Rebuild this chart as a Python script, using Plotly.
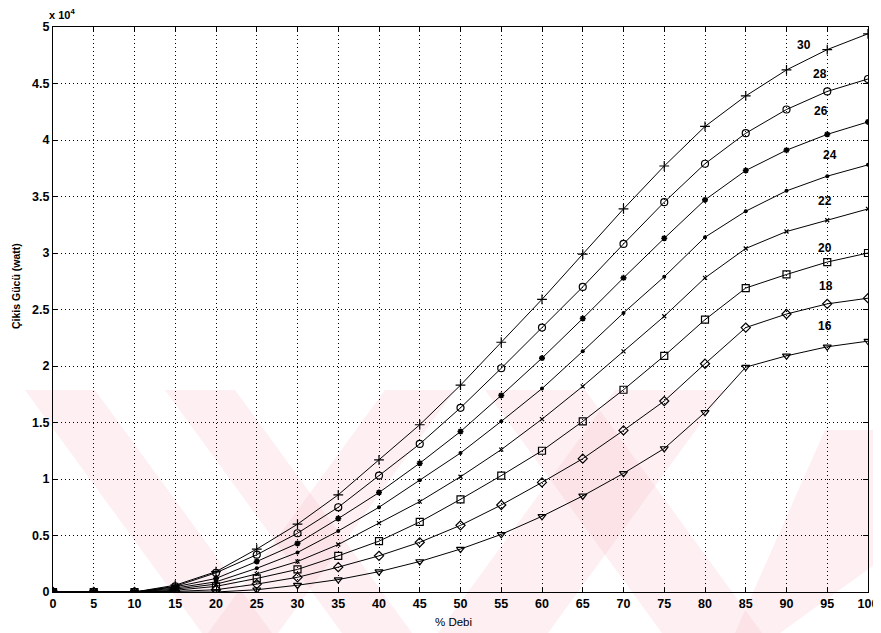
import plotly.graph_objects as go

# ---------------- data ----------------
debi = [0, 5, 10, 15, 20, 25, 30, 35, 40, 45, 50, 55, 60, 65, 70, 75, 80, 85, 90, 95, 100]

p30 = [0, 0, 0, 600, 1800, 3800, 6000, 8600, 11700, 14800, 18300, 22100, 25900, 29900, 33900, 37700, 41200, 43900, 46200, 48000, 49400]
p28 = [0, 0, 0, 500, 1700, 3300, 5200, 7500, 10300, 13100, 16300, 19800, 23400, 27000, 30800, 34500, 37900, 40600, 42700, 44300, 45400]
p26 = [0, 0, 0, 450, 1200, 2700, 4300, 6500, 8800, 11400, 14200, 17400, 20700, 24200, 27800, 31300, 34700, 37300, 39100, 40500, 41600]
p24 = [0, 0, 0, 350, 900, 2100, 3500, 5400, 7500, 9900, 12300, 15100, 18000, 21300, 24700, 27900, 31400, 33700, 35500, 36800, 37800]
p22 = [0, 0, 0, 250, 700, 1600, 2700, 4200, 6100, 8000, 10200, 12600, 15300, 18200, 21300, 24400, 27800, 30400, 31900, 32900, 33900]
p20 = [0, 0, 0, 150, 500, 1200, 2000, 3200, 4500, 6200, 8200, 10300, 12500, 15100, 17900, 20900, 24100, 26900, 28100, 29200, 30000]
p18 = [0, 0, 0, 50, 200, 700, 1300, 2200, 3200, 4400, 5900, 7700, 9700, 11800, 14300, 16900, 20200, 23400, 24600, 25500, 26000]
p16 = [0, 0, 0, 0, 0, 200, 600, 1100, 1800, 2700, 3800, 5100, 6700, 8500, 10500, 12700, 15900, 19900, 20900, 21700, 22200]

series_names = ["30", "28", "26", "24", "22", "20", "18", "16"]
series_vals = [p30, p28, p26, p24, p22, p20, p18, p16]

x_ticks = debi
y_ticks = [0, 5000, 10000, 15000, 20000, 25000, 30000, 35000, 40000, 45000, 50000]
y_ticklabels = ["0", "0.5", "1", "1.5", "2", "2.5", "3", "3.5", "4", "4.5", "5"]

# curve label positions (data coords)
label_x = [92.1, 94.1, 94.2, 95.3, 94.7, 94.7, 94.8, 94.7]
label_y = [48400, 45800, 42600, 38700, 34600, 30400, 27100, 23500]

# ---------------- style ----------------
OFF = 8                      # page body margin
W, H = 881 - OFF, 633 - OFF
L, T = 53 - OFF, 27 - OFF
PW, PH = 815, 565
R, B = W - L - PW, H - T - PH

markers = [
    dict(symbol="cross-thin-open", size=7, line=dict(width=1.2, color="black")),
    dict(symbol="circle-open", size=7, line=dict(width=1.2, color="black")),
    dict(symbol="asterisk-open", size=5, line=dict(width=1.6, color="black")),
    dict(symbol="circle", size=4, color="black", line=dict(width=0)),
    dict(symbol="x-thin-open", size=4, line=dict(width=1.2, color="black")),
    dict(symbol="square-open", size=7, line=dict(width=1.2, color="black")),
    dict(symbol="diamond-open", size=7, line=dict(width=1.2, color="black")),
    dict(symbol="triangle-down-open", size=7, line=dict(width=1.2, color="black")),
]

FONT = "Liberation Sans, Arial, sans-serif"

def px2paper(px, py):
    # screen pixel -> paper coords
    return (px - OFF - L) / PW, (T + PH - (py - OFF)) / PH

def poly(pts):
    path = ""
    for i, (px, py) in enumerate(pts):
        xp, yp = px2paper(px, py)
        path += ("M" if i == 0 else "L") + f"{xp:.4f},{yp:.4f} "
    return path + "Z"

fig = go.Figure()
for name, vals, mk in zip(series_names, series_vals, markers):
    m = dict(mk)
    m.setdefault("color", "black")
    fig.add_trace(go.Scatter(
        x=debi, y=vals, mode="lines+markers", name=name,
        line=dict(color="black", width=1), marker=m, showlegend=False,
    ))

lab_font = dict(family=FONT, size=12, color="black", weight="bold")
for name, lx, ly in zip(series_names, label_x, label_y):
    fig.add_annotation(x=lx, y=ly, xref="x", yref="y", text=name, showarrow=False,
                       font=lab_font, xanchor="center", yanchor="middle")

pink = "rgba(248,190,200,0.24)"
wm = [
    [(25, 390), (95, 390), (272, 633), (202, 633)],
    [(385, 390), (455, 390), (278, 633), (208, 633)],
    [(165, 390), (235, 390), (412, 633), (342, 633)],
    [(485, 390), (585, 390), (762, 633), (662, 633)],
    [(615, 390), (725, 390), (548, 633), (438, 633)],
    [(825, 430), (881, 430), (881, 560), (780, 633), (735, 633)],
]
shapes = [dict(type="path", xref="paper", yref="paper", path=poly(p), fillcolor=pink,
               line=dict(width=0), layer="below") for p in wm]

fig.add_annotation(x=px2paper(47, 0)[0], y=px2paper(0, 14)[1], xref="paper", yref="paper",
                   text="x 10<sup>4</sup>", showarrow=False, xanchor="left", yanchor="middle",
                   font=dict(family=FONT, size=11, color="black", weight="bold"))
fig.add_annotation(x=px2paper(453, 0)[0], y=px2paper(0, 622)[1], xref="paper", yref="paper",
                   text="% Debi", showarrow=False, xanchor="center", yanchor="middle",
                   font=dict(family=FONT, size=11.5, color="black"))
fig.add_annotation(x=px2paper(16, 0)[0], y=px2paper(0, 286)[1], xref="paper", yref="paper",
                   text="Çikis Gücü (watt)", showarrow=False, textangle=-90,
                   xanchor="center", yanchor="middle",
                   font=dict(family=FONT, size=10.5, color="black", weight="bold"))

tick_font = dict(family=FONT, size=12.5, color="black", weight="bold")
axis_common = dict(
    showline=True, linecolor="black", linewidth=1.3, mirror="ticks",
    ticks="inside", ticklen=5, tickcolor="black", tickwidth=1,
    showgrid=True, gridcolor="black", gridwidth=1, griddash="1px,3px",
    zeroline=False, tickfont=tick_font, automargin=False,
)

fig.update_layout(
    width=W, height=H,
    margin=dict(l=L, r=R, t=T, b=B, pad=0, autoexpand=False),
    paper_bgcolor="white", plot_bgcolor="rgba(0,0,0,0)",
    shapes=shapes,
    xaxis=dict(range=[0, 100], tickvals=x_ticks, ticktext=[str(v) for v in x_ticks], **axis_common),
    yaxis=dict(range=[0, 50000], tickvals=y_ticks, ticktext=y_ticklabels, **axis_common),
)

fig.write_html("out.html")
